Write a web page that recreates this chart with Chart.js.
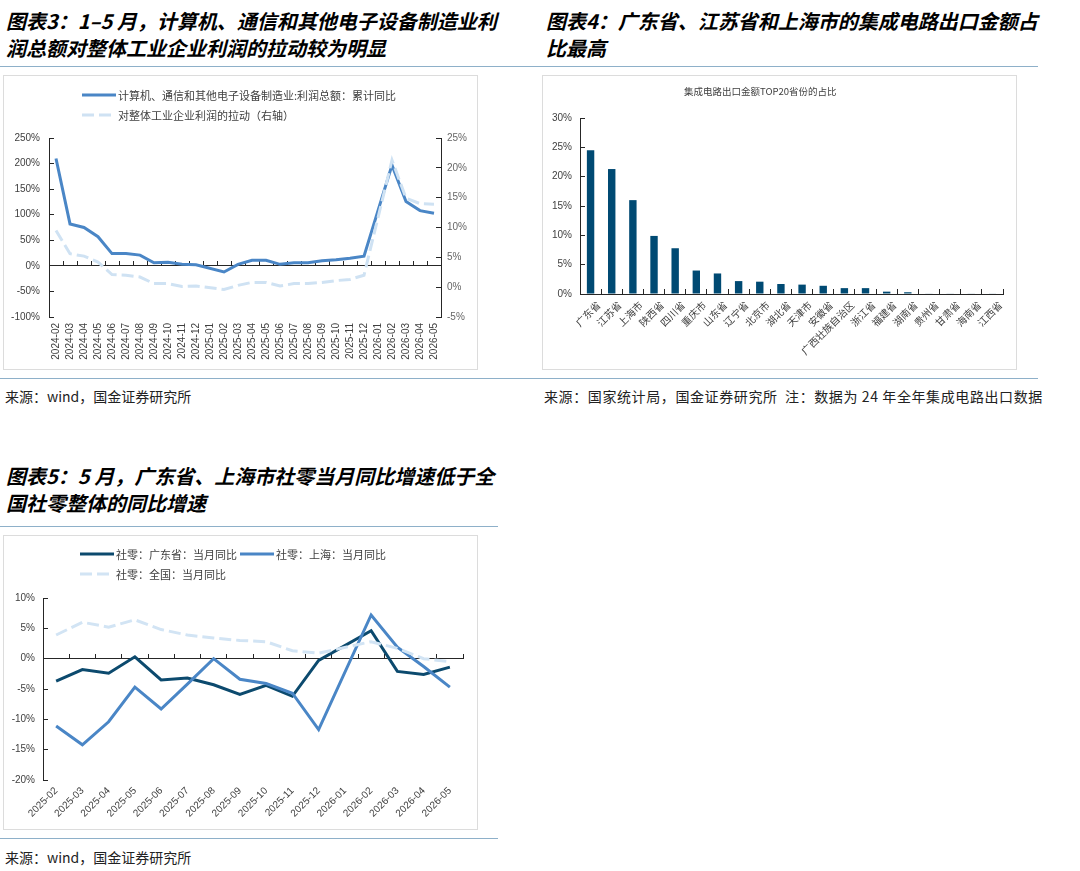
<!DOCTYPE html>
<html lang="zh-CN">
<head>
    <meta charset="UTF-8">
    <title>图表3-5</title>
    <script src="https://cdn.jsdelivr.net/npm/chart.js@4"></script>
    <style>
        body { margin: 0; background: #fff; font-family: 'Noto Sans CJK SC', sans-serif; }
        #page { position: relative; width: 1080px; height: 871px; overflow: hidden; }
        .title { position: absolute; font-size: 20px; font-weight: bold; font-style: italic; line-height: 27px; color: #000; white-space: nowrap; }
        .rule { position: absolute; height: 1px; background: #8eb0c9; }
        .frame { position: absolute; width: 475px; height: 295px; border: 1px solid #dcdcdc; box-sizing: border-box; }
        .frame canvas { position: absolute; left: -1px; top: -1px; }
        .source { position: absolute; font-size: 14px; line-height: 18px; color: #222; white-space: nowrap; }
        .legend { position: absolute; font-size: 11px; color: #404040; white-space: nowrap; }
        .legend-row { display: flex; align-items: center; height: 20px; }
        .legend-item { display: flex; align-items: center; margin-right: 3px; }
        .legend-item svg { margin-right: 2px; }
        .chart-title { position: absolute; font-size: 9.5px; color: #404040; white-space: nowrap; }
    </style>
</head>
<body>
<div id="page">
    <div class="title" style="left:6px; top:7px;">图表3：1–5 月，计算机、通信和其他电子设备制造业利</div>
    <div class="title" style="left:6px; top:34px;">润总额对整体工业企业利润的拉动较为明显</div>
    <div class="title" style="left:546px; top:7px;">图表4：广东省、江苏省和上海市的集成电路出口金额占</div>
    <div class="title" style="left:546px; top:34px;">比最高</div>
    <div class="rule" style="left:0; top:66px; width:1038px;"></div>

    <div class="frame" style="left:3px; top:75px;">
        <canvas id="profitChart" width="475" height="295"></canvas>
    </div>
    <div class="legend" id="profitLegend" style="left:82px; top:85px;"></div>

    <div class="frame" style="left:542px; top:75px;">
        <canvas id="icChart" width="475" height="295"></canvas>
    </div>
    <div class="chart-title" style="left:684px; top:84px;">集成电路出口金额TOP20省份的占比</div>

    <div class="rule" style="left:0; top:378px; width:1038px;"></div>
    <div class="source" style="left:5px; top:387px;">来源：wind，国金证券研究所</div>
    <div class="source" style="left:544px; top:387px; letter-spacing:0.6px;">来源：国家统计局，国金证券研究所&nbsp; 注：数据为 24 年全年集成电路出口数据</div>

    <div class="title" style="left:6px; top:462px;">图表5：5 月，广东省、上海市社零当月同比增速低于全</div>
    <div class="title" style="left:6px; top:489px;">国社零整体的同比增速</div>
    <div class="rule" style="left:0; top:526px; width:498px;"></div>

    <div class="frame" style="left:3px; top:535px;">
        <canvas id="retailChart" width="475" height="295"></canvas>
    </div>
    <div class="legend" id="retailLegend" style="left:80px; top:544px;"></div>

    <div class="rule" style="left:0; top:838px; width:498px;"></div>
    <div class="source" style="left:5px; top:848px;">来源：wind，国金证券研究所</div>
</div>

<script>
    // 图表3 数据（%），1月无单月数据
    const profitMonths = ['2024-02', '2024-03', '2024-04', '2024-05', '2024-06', '2024-07', '2024-08', '2024-09', '2024-10', '2024-11', '2024-12',
        '2025-01', '2025-02', '2025-03', '2025-04', '2025-05', '2025-06', '2025-07', '2025-08', '2025-09', '2025-10', '2025-11', '2025-12',
        '2026-01', '2026-02', '2026-03', '2026-04', '2026-05'];
    const profitYoY = [210, 82, 75, 57, 24, 24, 21, 6, 7, 3, 2, null, -12, 3, 11, 11, 3, 6, 6, 10, 12, 15, 19, null, 197, 126, 108, 103];
    const profitPull = [9.5, 5.6, 5.2, 4.2, 2.1, 2.0, 1.7, 0.6, 0.6, 0.1, 0.2, null, -0.4, 0.3, 0.8, 0.8, 0.2, 0.6, 0.6, 0.8, 1.1, 1.3, 2.0, null, 21.3, 14.9, 14.0, 13.9];

    // 图表4 数据（%）
    const provinces = ['广东省', '江苏省', '上海市', '陕西省', '四川省', '重庆市', '山东省', '辽宁省', '北京市', '湖北省',
        '天津市', '安徽省', '广西壮族自治区', '浙江省', '福建省', '湖南省', '贵州省', '甘肃省', '海南省', '江西省'];
    const icShare = [24.5, 21.3, 16.0, 9.9, 7.8, 4.0, 3.5, 2.2, 2.1, 1.7, 1.6, 1.4, 1.0, 1.0, 0.4, 0.3, 0.1, 0.1, 0.1, 0.1];

    // 图表5 数据（%）
    const retailMonths = ['2025-02', '2025-03', '2025-04', '2025-05', '2025-06', '2025-07', '2025-08', '2025-09', '2025-10', '2025-11', '2025-12',
        '2026-01', '2026-02', '2026-03', '2026-04', '2026-05'];
    const retailGuangdong = [-3.7, -1.8, -2.4, 0.3, -3.5, -3.2, -4.3, -5.9, -4.4, -6.2, -0.3, null, 4.6, -2.1, -2.6, -1.4];
    const retailShanghai = [-11.1, -14.2, -10.4, -4.7, -8.3, -4.2, 0.0, -3.4, -4.1, -5.7, -11.7, null, 7.2, 1.9, -1.3, -4.7];
    const retailNational = [3.9, 6.0, 5.2, 6.4, 4.8, 3.9, 3.4, 3.0, 2.8, 1.3, 0.9, null, 2.8, 1.7, 0.0, -0.5];

    Chart.defaults.font.family = "'Liberation Sans', Arial, 'Noto Sans CJK SC', sans-serif";
    Chart.defaults.font.size = 10;
    Chart.defaults.color = '#404040';

    const pct = v => v + '%';
    const axisColor = '#262626';

    // 轴刻度线朝内
    function valueAxis(position, min, max, step, width, padding, color) {
        return {
            position: position, min: min, max: max,
            ticks: { stepSize: step, padding: padding, color: color, callback: pct },
            grid: { drawOnChartArea: false, tickLength: -5, color: axisColor },
            border: { color: axisColor },
            afterFit: s => { s.width = width; }
        };
    }

    function labelAxis(height, rotation, padding, font) {
        return {
            offset: true,
            grid: { display: false, drawTicks: false },
            border: { display: false },
            ticks: { autoSkip: false, minRotation: rotation, maxRotation: rotation, padding: padding, font: font },
            afterFit: s => { s.height = height; }
        };
    }

    // 零轴上的刻度
    const zeroAxis = {
        type: 'category', axis: 'x', position: { y: 0 }, offset: true,
        grid: { drawOnChartArea: false, offset: true, tickLength: -5, color: axisColor },
        border: { color: axisColor },
        ticks: { display: false }
    };

    function buildLegend(chart, el, rows) {
        rows.forEach(indexes => {
            const row = document.createElement('div');
            row.className = 'legend-row';
            indexes.forEach(i => {
                const ds = chart.data.datasets[i];
                const item = document.createElement('span');
                item.className = 'legend-item';
                const dash = ds.borderDash ? ' stroke-dasharray="' + ds.borderDash.join(' ') + '"' : '';
                item.innerHTML = '<svg width="34" height="6"><line x1="0" y1="3" x2="34" y2="3" stroke="' + ds.borderColor +
                    '" stroke-width="' + ds.borderWidth + '"' + dash + '/></svg><span>' + ds.label + '</span>';
                row.appendChild(item);
            });
            el.appendChild(row);
        });
    }

    const profitChart = new Chart(document.getElementById('profitChart'), {
        type: 'line',
        data: {
            labels: profitMonths,
            datasets: [{
                label: '计算机、通信和其他电子设备制造业:利润总额：累计同比',
                data: profitYoY,
                yAxisID: 'y',
                borderColor: '#4a86c6',
                borderWidth: 3,
                pointRadius: 0,
                spanGaps: true,
                order: 1
            }, {
                label: '对整体工业企业利润的拉动（右轴）',
                data: profitPull,
                yAxisID: 'y1',
                borderColor: '#cfe2f3',
                borderWidth: 3,
                borderDash: [12, 5],
                pointRadius: 0,
                spanGaps: true,
                order: 0
            }]
        },
        options: {
            responsive: false,
            animation: false,
            layout: { padding: { left: 0, top: 63, right: 5, bottom: 8 } },
            plugins: { legend: { display: false }, tooltip: { enabled: false } },
            scales: {
                x: labelAxis(45, 90, 6),
                x0: zeroAxis,
                y: valueAxis('left', -100, 250, 50, 46, 14),
                y1: valueAxis('right', -5, 25, 5, 32, 11, '#666')
            }
        }
    });
    buildLegend(profitChart, document.getElementById('profitLegend'), [[0], [1]]);

    new Chart(document.getElementById('icChart'), {
        type: 'bar',
        data: {
            labels: provinces,
            datasets: [{
                label: '集成电路出口金额TOP20省份的占比',
                data: icShare,
                backgroundColor: '#004a73',
                barPercentage: 0.35,
                categoryPercentage: 1
            }]
        },
        options: {
            responsive: false,
            animation: false,
            layout: { padding: { left: 0, top: 43, right: 14, bottom: 6 } },
            plugins: { legend: { display: false }, tooltip: { enabled: false } },
            scales: {
                x: {
                    offset: true,
                    grid: { drawOnChartArea: false, offset: true, tickLength: -5, color: axisColor },
                    border: { color: axisColor },
                    ticks: {
                        autoSkip: false, minRotation: 45, maxRotation: 45, padding: 10, labelOffset: 8,
                        font: { family: "'Noto Sans CJK SC', sans-serif", size: 10 }
                    },
                    afterFit: s => { s.height = 70; }
                },
                y: valueAxis('left', 0, 30, 5, 38, 13)
            }
        }
    });

    const retailChart = new Chart(document.getElementById('retailChart'), {
        type: 'line',
        data: {
            labels: retailMonths,
            datasets: [{
                label: '社零：广东省：当月同比',
                data: retailGuangdong,
                borderColor: '#0c4a6e',
                borderWidth: 3,
                pointRadius: 0,
                spanGaps: true,
                order: 2
            }, {
                label: '社零：上海：当月同比',
                data: retailShanghai,
                borderColor: '#4a86c6',
                borderWidth: 3,
                pointRadius: 0,
                spanGaps: true,
                order: 1
            }, {
                label: '社零：全国：当月同比',
                data: retailNational,
                borderColor: '#d2e4f4',
                borderWidth: 3,
                borderDash: [12, 5],
                pointRadius: 0,
                spanGaps: true,
                order: 0
            }]
        },
        options: {
            responsive: false,
            animation: false,
            layout: { padding: { left: 0, top: 63, right: 15, bottom: 6 } },
            plugins: { legend: { display: false }, tooltip: { enabled: false } },
            scales: {
                x: labelAxis(44, 45, 5),
                x0: zeroAxis,
                y: valueAxis('left', -20, 10, 5, 40, 13)
            }
        }
    });
    buildLegend(retailChart, document.getElementById('retailLegend'), [[0, 1], [2]]);
</script>
</body>
</html>
